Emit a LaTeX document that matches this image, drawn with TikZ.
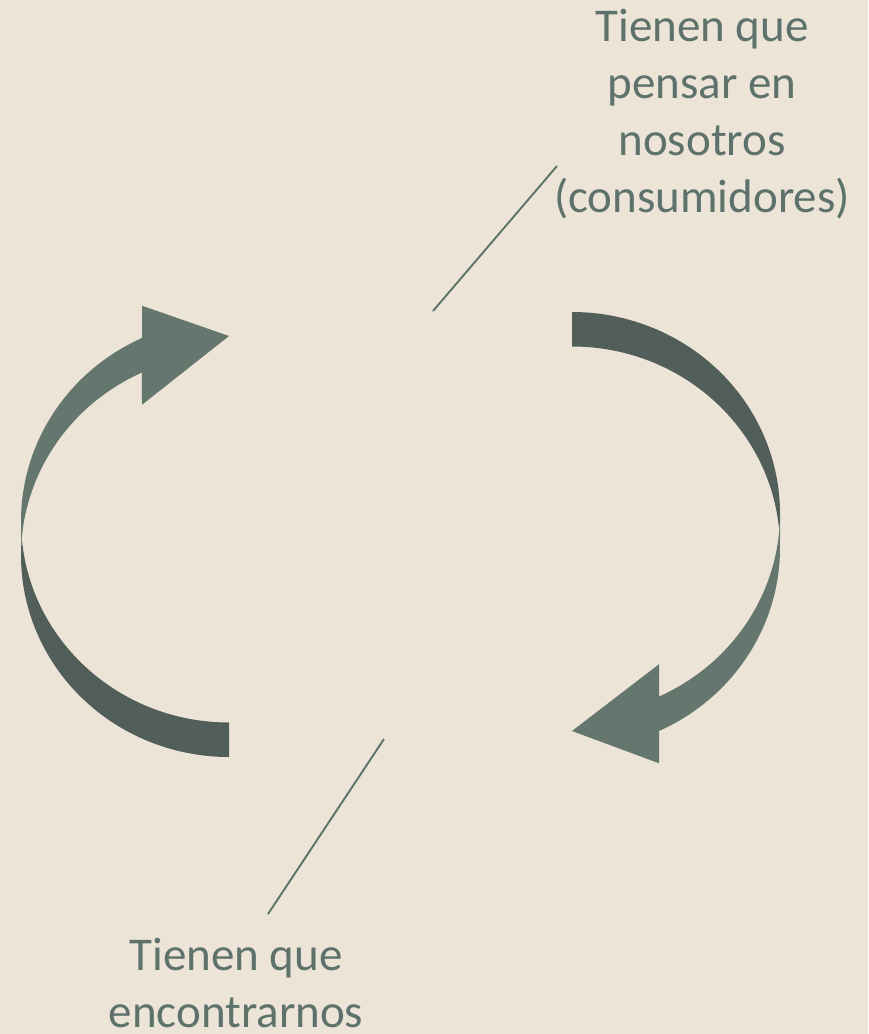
\documentclass[tikz,border=0pt]{standalone}
\usepackage{fontspec}
\setmainfont{Carlito}

\definecolor{papel}{RGB}{236,228,214}
\definecolor{verdeclaro}{RGB}{101,118,111}
\definecolor{verdeoscuro}{RGB}{81,94,90}
\definecolor{texto}{RGB}{94,114,108}

\begin{document}
\begin{tikzpicture}[x=1pt, y=1pt,
    curva/.style={x radius=208, y radius=201.5},
    etiqueta/.style={text=texto, align=center, inner sep=0pt,
        font=\fontsize{47}{57}\selectfont},
    guia/.style={draw=texto, line width=1.9pt}]
    % -----------------------------------------------------
    % 0) Fondo de papel
    % -----------------------------------------------------
    \fill[papel] (0,0) rectangle (868,-1034);
    \useasboundingbox (0,0) rectangle (868,-1034);

    % -----------------------------------------------------
    % 1) Flecha izquierda (sube por la izquierda)
    %    Dos elipses iguales desplazadas 34.5 en vertical:
    %    E1 centro (229,-555.5), E2 centro (229,-521)
    % -----------------------------------------------------
    % Cola (tono oscuro)
    \fill[verdeoscuro] ([shift={(229,-555.5)}]175.09:208 and 201.5)
        arc[curva, start angle=175.09, end angle=270] -- (229,-722.5)
        arc[curva, start angle=270, end angle=184.91] -- cycle;
    % Cabeza (tono claro)
    \fill[verdeclaro] (21,-555.5)
        arc[curva, start angle=180, end angle=114.73]
        -- (142,-404.75) -- (229,-336) -- (142,-305.75) -- (142,-338)
        arc[curva, start angle=114.73, end angle=180] -- cycle;

    % -----------------------------------------------------
    % 2) Flecha derecha (baja por la derecha)
    %    E1 centro (572,-513.5), E2 centro (572,-548)
    % -----------------------------------------------------
    % Cola (tono oscuro)
    \fill[verdeoscuro] (572,-312)
        arc[curva, start angle=90, end angle=-4.91]
        arc[curva, start angle=4.91, end angle=90] -- cycle;
    % Cabeza (tono claro)
    \fill[verdeclaro] (780,-513.5)
        arc[curva, start angle=0, end angle=-65.27]
        -- (659,-664.25) -- (572,-731) -- (659,-763.25) -- (659,-731)
        arc[curva, start angle=-65.27, end angle=0] -- cycle;

    % -----------------------------------------------------
    % 3) Textos
    % -----------------------------------------------------
    \node[etiqueta, anchor=base] (pensar) at (702,-212)
        {Tienen que\\pensar en\\nosotros\\(consumidores)};
    \node[etiqueta, anchor=base] (encontrar) at (236,-1027)
        {Tienen que\\encontrarnos};

    % -----------------------------------------------------
    % 4) Lineas guia
    % -----------------------------------------------------
    \coordinate (pensarA) at (557,-166);
    \coordinate (pensarB) at (433,-311);
    \draw[guia] (pensarA) -- (pensarB);

    \coordinate (encontrarA) at (384,-739);
    \coordinate (encontrarB) at (268,-914);
    \draw[guia] (encontrarA) -- (encontrarB);

\end{tikzpicture}
\end{document}
